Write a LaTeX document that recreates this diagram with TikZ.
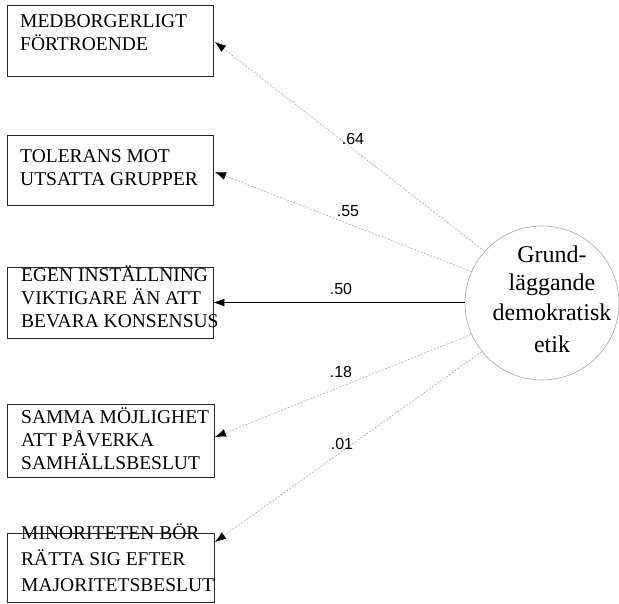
\documentclass[tikz,border=0pt]{standalone}
\usepackage{fontspec}
\setmainfont{Liberation Serif}
\newfontfamily\labelfont{Liberation Sans}
\usetikzlibrary{arrows.meta}
\newcommand\stacklines[1]{\begin{tabular}[t]{@{}l@{}}#1\end{tabular}}

\begin{document}
\begin{tikzpicture}[x=1pt,y=-1pt,
  itembox/.style={draw=black!85, line width=0.7pt, minimum width=206pt, inner sep=0pt},
  itemtext/.style={anchor=base west, inner sep=0pt, font=\fontsize{19.5}{23}\selectfont},
  loading/.style={draw=gray!65, line width=0.6pt, dash pattern=on 2pt off 1.5pt,
    -{Latex[length=11pt,width=8pt,color=black]}},
  strongload/.style={draw=black, line width=0.6pt,
    -{Latex[length=11pt,width=8pt,color=black]}},
  coef/.style={inner sep=0pt, font=\labelfont\fontsize{16}{16}\selectfont}]

\useasboundingbox (0,0) rectangle (619,604);
\fill[white] (0,0) rectangle (619,604);

% indicator boxes
\node[itembox, minimum height=71pt] (b1) at (110,40.5) {};
\node[itembox, minimum height=70pt] (b2) at (110,170.5) {};
\node[itembox, minimum height=71pt] (b3) at (110,302.5) {};
\node[itembox, minimum width=207pt, minimum height=73pt] (b4) at (110.5,440.5) {};
\node[itembox, minimum width=207pt, minimum height=69pt] (b5) at (110.5,567.5) {};

\node[itemtext] (t1) at (20,28) {\stacklines{MEDBORGERLIGT\\FÖRTROENDE}};
\node[itemtext] (t2) at (20,163) {\stacklines{TOLERANS MOT\\UTSATTA GRUPPER}};
\node[itemtext] (t3) at (21,282) {\stacklines{EGEN INSTÄLLNING\\VIKTIGARE ÄN ATT\\BEVARA KONSENSUS}};
\node[itemtext] (t4) at (21,423) {\stacklines{SAMMA MÖJLIGHET\\ATT PÅVERKA\\SAMHÄLLSBESLUT}};
\node[itemtext, font=\fontsize{19.5}{26}\selectfont] (t5) at (21,539) {\stacklines{MINORITETEN BÖR\\RÄTTA SIG EFTER\\MAJORITETSBESLUT}};

% latent factor
\node[circle, draw=gray!70, line width=0.6pt, minimum size=154pt, inner sep=0pt] (c) at (542,303) {};
\node[anchor=base, inner sep=0pt, font=\fontsize{24}{27}\selectfont] (ct) at (552,263)
  {\begin{tabular}[t]{@{}c@{}}Grund-\\[1pt]läggande\\[3pt]demokratisk\\[5pt]etik\end{tabular}};

% arrow end points on the boxes
\coordinate (e1) at (215,42);
\coordinate (e2) at (215,172);
\coordinate (e4) at (215,437);
\coordinate (e5) at (215,542);

% loadings
\draw[loading] (c.138.7) -- (e1);
\draw[loading] (c.156.7) -- (e2);
\draw[strongload] (c.west |- b3.east) -- (b3.east);
\draw[loading] (c.204.9) -- (e4);
\draw[loading] (c.219.7) -- (e5);

\node[coef] (l1) at (353,139) {.64};
\node[coef] (l2) at (348,211) {.55};
\node[coef] (l3) at (341,289) {.50};
\node[coef] (l4) at (341,372) {.18};
\node[coef] (l5) at (342,444) {.01};
\end{tikzpicture}
\end{document}
